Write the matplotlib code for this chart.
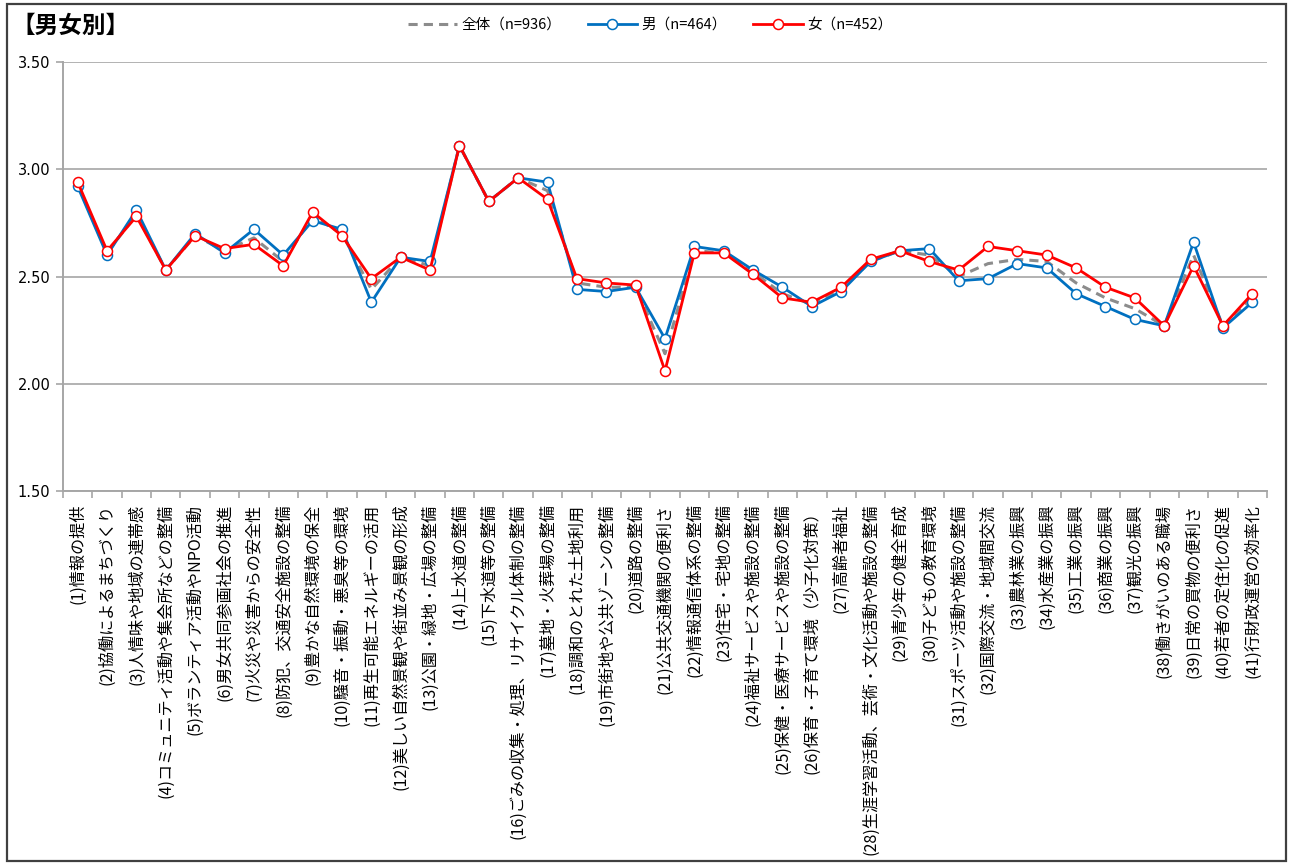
import matplotlib
matplotlib.use("Agg")
import matplotlib.pyplot as plt
from matplotlib.patches import Rectangle
import numpy as np

plt.rcParams['font.family'] = ['Noto Sans CJK JP', 'DejaVu Sans']

categories = [
    "(1)情報の提供", "(2)協働によるまちづくり", "(3)人情味や地域の連帯感",
    "(4)コミュニティ活動や集会所などの整備", "(5)ボランティア活動やNPO活動",
    "(6)男女共同参画社会の推進", "(7)火災や災害からの安全性",
    "(8)防犯、交通安全施設の整備", "(9)豊かな自然環境の保全",
    "(10)騒音・振動・悪臭等の環境", "(11)再生可能エネルギーの活用",
    "(12)美しい自然景観や街並み景観の形成", "(13)公園・緑地・広場の整備",
    "(14)上水道の整備", "(15)下水道等の整備",
    "(16)ごみの収集・処理、リサイクル体制の整備", "(17)墓地・火葬場の整備",
    "(18)調和のとれた土地利用", "(19)市街地や公共ゾーンの整備",
    "(20)道路の整備", "(21)公共交通機関の便利さ", "(22)情報通信体系の整備",
    "(23)住宅・宅地の整備", "(24)福祉サービスや施設の整備",
    "(25)保健・医療サービスや施設の整備", "(26)保育・子育て環境（少子化対策）",
    "(27)高齢者福祉", "(28)生涯学習活動、芸術・文化活動や施設の整備",
    "(29)青少年の健全育成", "(30)子どもの教育環境",
    "(31)スポーツ活動や施設の整備", "(32)国際交流・地域間交流",
    "(33)農林業の振興", "(34)水産業の振興", "(35)工業の振興",
    "(36)商業の振興", "(37)観光の振興", "(38)働きがいのある職場",
    "(39)日常の買物の便利さ", "(40)若者の定住化の促進", "(41)行財政運営の効率化",
]

total = [2.93, 2.61, 2.79, 2.53, 2.69, 2.62, 2.68, 2.57, 2.78, 2.70,
         2.44, 2.59, 2.55, 3.11, 2.85, 2.96, 2.90, 2.47, 2.45, 2.45,
         2.14, 2.62, 2.61, 2.52, 2.42, 2.37, 2.44, 2.57, 2.62, 2.60,
         2.50, 2.56, 2.58, 2.57, 2.47, 2.40, 2.35, 2.27, 2.60, 2.27, 2.40]
male = [2.92, 2.60, 2.81, 2.53, 2.70, 2.61, 2.72, 2.60, 2.76, 2.72,
        2.38, 2.59, 2.57, 3.11, 2.85, 2.96, 2.94, 2.44, 2.43, 2.45,
        2.21, 2.64, 2.62, 2.53, 2.45, 2.36, 2.43, 2.57, 2.62, 2.63,
        2.48, 2.49, 2.56, 2.54, 2.42, 2.36, 2.30, 2.27, 2.66, 2.26, 2.38]
female = [2.94, 2.62, 2.78, 2.53, 2.69, 2.63, 2.65, 2.55, 2.80, 2.69,
          2.49, 2.59, 2.53, 3.11, 2.85, 2.96, 2.86, 2.49, 2.47, 2.46,
          2.06, 2.61, 2.61, 2.51, 2.40, 2.38, 2.45, 2.58, 2.62, 2.57,
          2.53, 2.64, 2.62, 2.60, 2.54, 2.45, 2.40, 2.27, 2.55, 2.27, 2.42]

series_labels = ["全体（n=936）", "男（n=464）", "女（n=452）"]
y_ticks = [1.50, 2.00, 2.50, 3.00, 3.50]

W, H = 1290, 863
fig = plt.figure(figsize=(W / 100, H / 100), dpi=100)
ax = fig.add_axes([63 / W, 1 - 491 / H, (1267 - 63) / W, (491 - 62) / H])

x = np.arange(len(categories))
l0, = ax.plot(x, total, color="#8c8c8c", lw=2.2, ls=(0, (3, 2)), zorder=3,
              label=series_labels[0])
l1, = ax.plot(x, male, color="#0070C0", lw=2.0, marker="o", ms=7.2,
              mfc="white", mec="#0070C0", mew=1.1, zorder=4, label=series_labels[1])
l2, = ax.plot(x, female, color="#FF0000", lw=2.0, marker="o", ms=7.2,
              mfc="white", mec="#FF0000", mew=1.1, zorder=5, label=series_labels[2])

ax.set_xlim(-0.5, len(categories) - 0.5)
ax.set_ylim(1.5, 3.5)
ax.set_yticks(y_ticks)
ax.set_yticklabels([f"{v:.2f}" for v in y_ticks], fontsize=10.5,
                   family=['DejaVu Sans'])
ax.yaxis.grid(True, color="#a6a6a6", lw=1.2)
ax.set_axisbelow(True)

ax.set_xticks(x)
ax.set_xticklabels(categories, rotation=90, fontsize=11.6, va="top", ha="center")
ax.set_xticks(np.arange(len(categories) + 1) - 0.5, minor=True)
ax.tick_params(axis="x", which="major", length=0, pad=9)
ax.tick_params(axis="x", which="minor", length=5, color="#a6a6a6", width=1.2)
ax.tick_params(axis="y", length=5, color="#a6a6a6", width=1.2, pad=4)

for s in ["top", "right"]:
    ax.spines[s].set_visible(False)
for s in ["left", "bottom"]:
    ax.spines[s].set_color("#a6a6a6")
    ax.spines[s].set_linewidth(1.4)

fig.text(11 / W, 1 - 26 / H, "【男女別】", fontsize=17, fontweight="bold",
         va="center", ha="left")

fig.legend(handles=[l0, l1, l2], loc="center", bbox_to_anchor=(650 / W, 1 - 25 / H),
           ncol=3, frameon=False, fontsize=10.5, handlelength=3.4,
           columnspacing=1.8, handletextpad=0.3)

fig.patches.append(Rectangle((7 / W, 2 / H), (1286 - 7) / W, (859 - 2) / H,
                             transform=fig.transFigure, fill=False,
                             edgecolor="#404040", lw=1.6))

fig.savefig("out.png", dpi=100, facecolor="white")
